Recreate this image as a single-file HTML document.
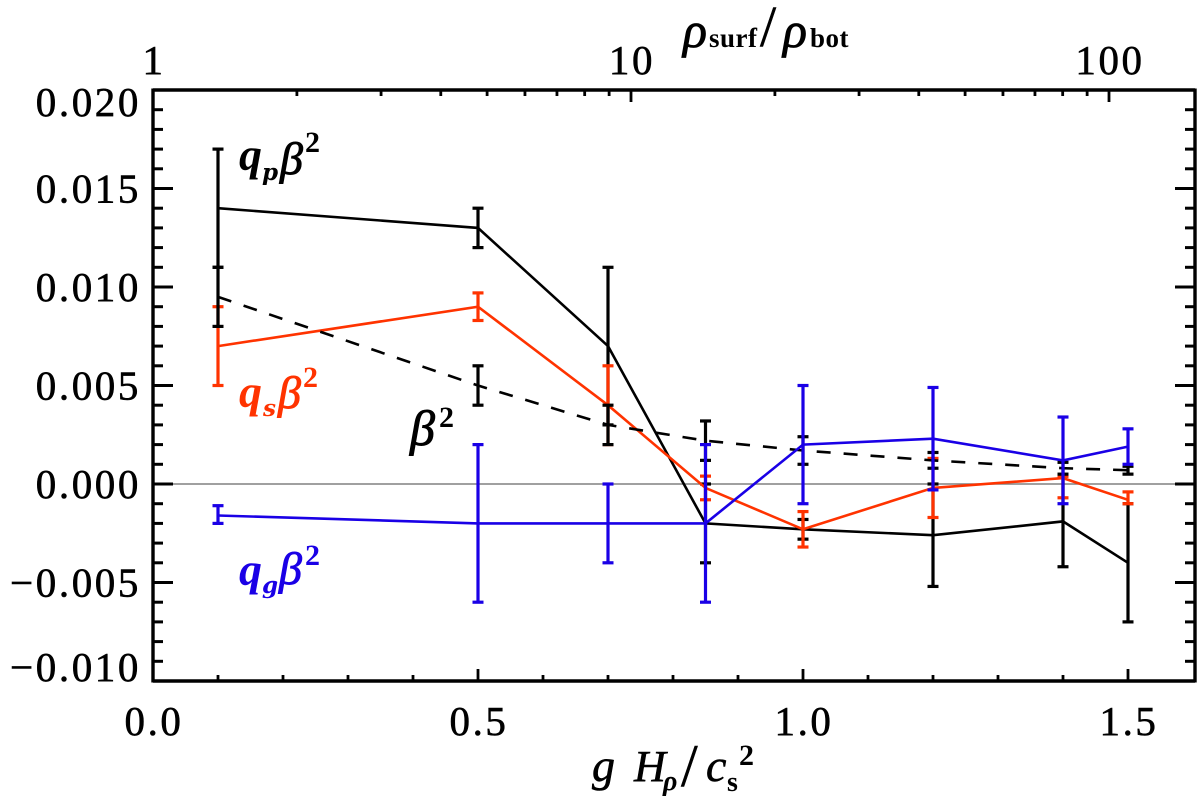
<!DOCTYPE html>
<html lang="en">
<head>
<meta charset="utf-8">
<title>Chart</title>
<style>
html,body{margin:0;padding:0;background:#fff;}
svg{display:block;}
text{font-family:"Liberation Serif",serif;fill:#000;}
.tick{font-size:41px;letter-spacing:2.6px;stroke:#000;stroke-width:0.6px;}
.ann{font-size:46px;font-style:italic;font-weight:bold;}
.beta{font-size:46px;font-style:italic;font-weight:normal;stroke-width:0.9px;}
.sub{font-size:23px;font-style:italic;font-weight:bold;font-family:"DejaVu Serif",serif;}
.sup{font-size:30px;font-weight:bold;}
</style>
</head>
<body>
<svg id="chart" width="1200" height="799" viewBox="0 0 1200 799" xmlns="http://www.w3.org/2000/svg">
<g id="marks"></g>
<g id="axes"></g>
<g id="labels"></g>

<g>
<text x="683" y="47" style="font-size:50px;font-style:italic;stroke:#000;stroke-width:0.8px">ρ</text>
<text x="709" y="47" style="font-size:27px;font-weight:bold;letter-spacing:0.5px">surf</text>
<text x="760" y="46" style="font-size:58px;stroke:#000;stroke-width:0.5px">/</text>
<text x="783" y="47" style="font-size:50px;font-style:italic;stroke:#000;stroke-width:0.8px">ρ</text>
<text x="810" y="47" style="font-size:27px;font-weight:bold;letter-spacing:0.5px">bot</text>
</g>

<g>
<text x="592" y="781" style="font-size:46px;font-style:italic;stroke:#000;stroke-width:0.6px">g</text>
<text x="634" y="781" style="font-size:44px;font-style:italic;stroke:#000;stroke-width:0.6px">H</text>
<text x="663" y="790" style="font-size:28px;font-style:italic;font-weight:bold">ρ</text>
<text x="681" y="786" style="font-size:60px;stroke:#000;stroke-width:0.5px">/</text>
<text x="706" y="781" style="font-size:46px;font-style:italic;stroke:#000;stroke-width:0.6px">c</text>
<text x="727" y="791" style="font-size:28px;font-weight:bold">s</text>
<text x="739" y="765" style="font-size:30px;font-weight:bold">2</text>
</g>

<g>
<text class="ann" x="239" y="170">q</text>
<text class="sub" x="262" y="180">p</text>
<text class="beta" x="280" y="174" style="stroke:#000">β</text>
<text class="sup" x="305" y="152">2</text>
</g>
<g>
<text class="ann" x="239" y="407" style="fill:#ff3300">q</text>
<text class="sub" x="263" y="416" style="fill:#ff3300">s</text>
<text class="beta" x="278" y="408" style="fill:#ff3300;stroke:#ff3300">β</text>
<text class="sup" x="303" y="387" style="fill:#ff3300">2</text>
</g>
<g>
<text class="beta" x="410" y="445" style="font-size:50px;stroke:#000">β</text>
<text class="sup" x="439" y="427">2</text>
</g>
<g>
<text class="ann" x="239" y="585" style="fill:#1a00e6">q</text>
<text class="sub" x="262" y="593" style="fill:#1a00e6">g</text>
<text class="beta" x="279" y="584" style="fill:#1a00e6;stroke:#1a00e6">β</text>
<text class="sup" x="305" y="565" style="fill:#1a00e6">2</text>
</g>
</svg>

<script>
var xCategories = [0.1, 0.5, 0.7, 0.85, 1.0, 1.2, 1.4, 1.5];

var qpValues = [0.014, 0.013, 0.007, -0.002, -0.0023, -0.0026, -0.0019, -0.004];
var qpUpper  = [0.017, 0.014, 0.011, 0.0, -0.0018, 0.0, 0.0004, -0.001];
var qpLower  = [0.011, 0.012, 0.003, -0.004, -0.0028, -0.0052, -0.0042, -0.007];

var qsValues = [0.007, 0.009, 0.004, -0.0002, -0.0023, -0.0002, 0.0003, -0.0008];
var qsUpper  = [0.009, 0.0097, 0.006, 0.0004, -0.0014, 0.0013, 0.0004, -0.0004];
var qsLower  = [0.005, 0.0083, 0.002, -0.0008, -0.0032, -0.0017, -0.0007, -0.001];

var betaValues = [0.0095, 0.005, 0.003, 0.0022, 0.0017, 0.0012, 0.0008, 0.0007];
var betaUpper  = [0.011, 0.006, 0.004, 0.0032, 0.0024, 0.0016, 0.0011, 0.0009];
var betaLower  = [0.008, 0.004, 0.002, 0.0012, 0.001, 0.0008, 0.0005, 0.0005];

var qgValues = [-0.0016, -0.002, -0.002, -0.002, 0.002, 0.0023, 0.0012, 0.0019];
var qgUpper  = [-0.0011, 0.002, 0.0, 0.002, 0.005, 0.0049, 0.0034, 0.0028];
var qgLower  = [-0.002, -0.006, -0.004, -0.006, -0.001, -0.0003, -0.001, 0.001];

var xTickLabels = ["0.0", "0.5", "1.0", "1.5"];
var yTickLabels = ["0.020", "0.015", "0.010", "0.005", "0.000", "\u22120.005", "\u22120.010"];
var topTickLabels = ["1", "10", "100"];
var topMinorValues = [2, 3, 4, 5, 6, 7, 8, 9, 20, 30, 40, 50, 60, 70, 80, 90];

var svgNS = 'http://www.w3.org/2000/svg';
var PLOT_LEFT = 153, PLOT_RIGHT = 1195, PLOT_TOP = 90, PLOT_BOTTOM = 681;

function xScale(v) { return 153 + 650 * v; }
function yScale(v) { return 484 - 19.7 * (v * 1000); }
function topScale(v) { return 153 + 478 * Math.log(v) / Math.LN10; }

function makeLine(parent, x1, y1, x2, y2, color, width) {
  var l = document.createElementNS(svgNS, 'line');
  l.setAttribute('x1', x1);
  l.setAttribute('y1', y1);
  l.setAttribute('x2', x2);
  l.setAttribute('y2', y2);
  l.setAttribute('stroke', color);
  l.setAttribute('stroke-width', width);
  parent.appendChild(l);
  return l;
}

function makeText(parent, str, x, y, anchor) {
  var t = document.createElementNS(svgNS, 'text');
  t.setAttribute('class', 'tick');
  t.setAttribute('x', x);
  t.setAttribute('y', y);
  t.setAttribute('text-anchor', anchor);
  t.textContent = str;
  parent.appendChild(t);
  return t;
}

function drawSeries(name, values, upper, lower, color, dash) {
  var marks = document.getElementById('marks');
  var g = document.createElementNS(svgNS, 'g');
  
  
  var pts = [];
  for (var i = 0; i < xCategories.length; i++) {
    pts.push(xScale(xCategories[i]).toFixed(1) + ',' + yScale(values[i]).toFixed(1));
  }
  var p = document.createElementNS(svgNS, 'polyline');
  p.setAttribute('points', pts.join(' '));
  p.setAttribute('fill', 'none');
  p.setAttribute('stroke', color);
  p.setAttribute('stroke-width', '2.6');
  if (dash) { p.setAttribute('stroke-dasharray', dash); }
  
  
  g.appendChild(p);
  for (var j = 0; j < xCategories.length; j++) {
    var cx = xScale(xCategories[j]);
    var yu = yScale(upper[j]);
    var yl = yScale(lower[j]);
    var eb = document.createElementNS(svgNS, 'g');
    
    
    makeLine(eb, cx, yu, cx, yl, color, 3.2);
    makeLine(eb, cx - 5.5, yu, cx + 5.5, yu, color, 3.2);
    makeLine(eb, cx - 5.5, yl, cx + 5.5, yl, color, 3.2);
    g.appendChild(eb);
  }
  marks.appendChild(g);
}

function drawAll() {
  var marks = document.getElementById('marks');
  var axes = document.getElementById('axes');
  var labels = document.getElementById('labels');

  var zero = makeLine(marks, PLOT_LEFT, yScale(0), PLOT_RIGHT, yScale(0), '#808080', 1.6);
  
  

  drawSeries('qp', qpValues, qpUpper, qpLower, '#000000', null);
  drawSeries('qs', qsValues, qsUpper, qsLower, '#ff3300', null);
  drawSeries('beta-squared', betaValues, betaUpper, betaLower, '#000000', '14 13');
  drawSeries('qg', qgValues, qgUpper, qgLower, '#1a00e6', null);

  var left = makeLine(axes, PLOT_LEFT, PLOT_TOP - 1.5, PLOT_LEFT, PLOT_BOTTOM + 1.5, '#000', 3.4);
  
  
  var right = makeLine(axes, PLOT_RIGHT, PLOT_TOP - 1.5, PLOT_RIGHT, PLOT_BOTTOM + 1.5, '#000', 3.4);
  
  
  var top = makeLine(axes, PLOT_LEFT, PLOT_TOP, PLOT_RIGHT, PLOT_TOP, '#000', 3.4);
  
  
  var bottom = makeLine(axes, PLOT_LEFT, PLOT_BOTTOM, PLOT_RIGHT, PLOT_BOTTOM, '#000', 3.4);
  
  

  for (var m = -10; m <= 20; m++) {
    var yy = yScale(m / 1000);
    var len = (m % 5 === 0) ? 20 : 10;
    makeLine(axes, PLOT_LEFT, yy, PLOT_LEFT + len, yy, '#000', 3);
    makeLine(axes, PLOT_RIGHT - len, yy, PLOT_RIGHT, yy, '#000', 3);
  }

  for (var k = 1; k <= 15; k++) {
    var xx = xScale(k / 10);
    var tl = (k % 5 === 0) ? 12 : 6;
    makeLine(axes, xx, PLOT_BOTTOM, xx, PLOT_BOTTOM - tl, '#000', 2.8);
  }

  for (var n = 0; n < topMinorValues.length; n++) {
    var tx = topScale(topMinorValues[n]);
    makeLine(axes, tx, PLOT_TOP, tx, PLOT_TOP + 6, '#000', 2.8);
  }
  for (var d = 1; d < topTickLabels.length; d++) {
    var dx = topScale(Number(topTickLabels[d]));
    makeLine(axes, dx, PLOT_TOP, dx, PLOT_TOP + 12, '#000', 2.8);
  }

  for (var a = 0; a < xTickLabels.length; a++) {
    var lx = makeText(labels, xTickLabels[a], xScale(Number(xTickLabels[a])) + 1, 735, 'middle');
    
    
  }
  for (var b = 0; b < yTickLabels.length; b++) {
    var val = Number(yTickLabels[b].replace('\u2212', '-'));
    var by = yScale(val) + 14;
    if (b === 0) { by = 116; }
    if (b === yTickLabels.length - 1) { by = 681; }
    var ly = makeText(labels, yTickLabels[b], 141, by, 'end');
    
    
  }
  for (var c = 0; c < topTickLabels.length; c++) {
    var lt = makeText(labels, topTickLabels[c], topScale(Number(topTickLabels[c])) + 1, 74, 'middle');
    
    
  }
}
drawAll();
</script>
</body>
</html>
